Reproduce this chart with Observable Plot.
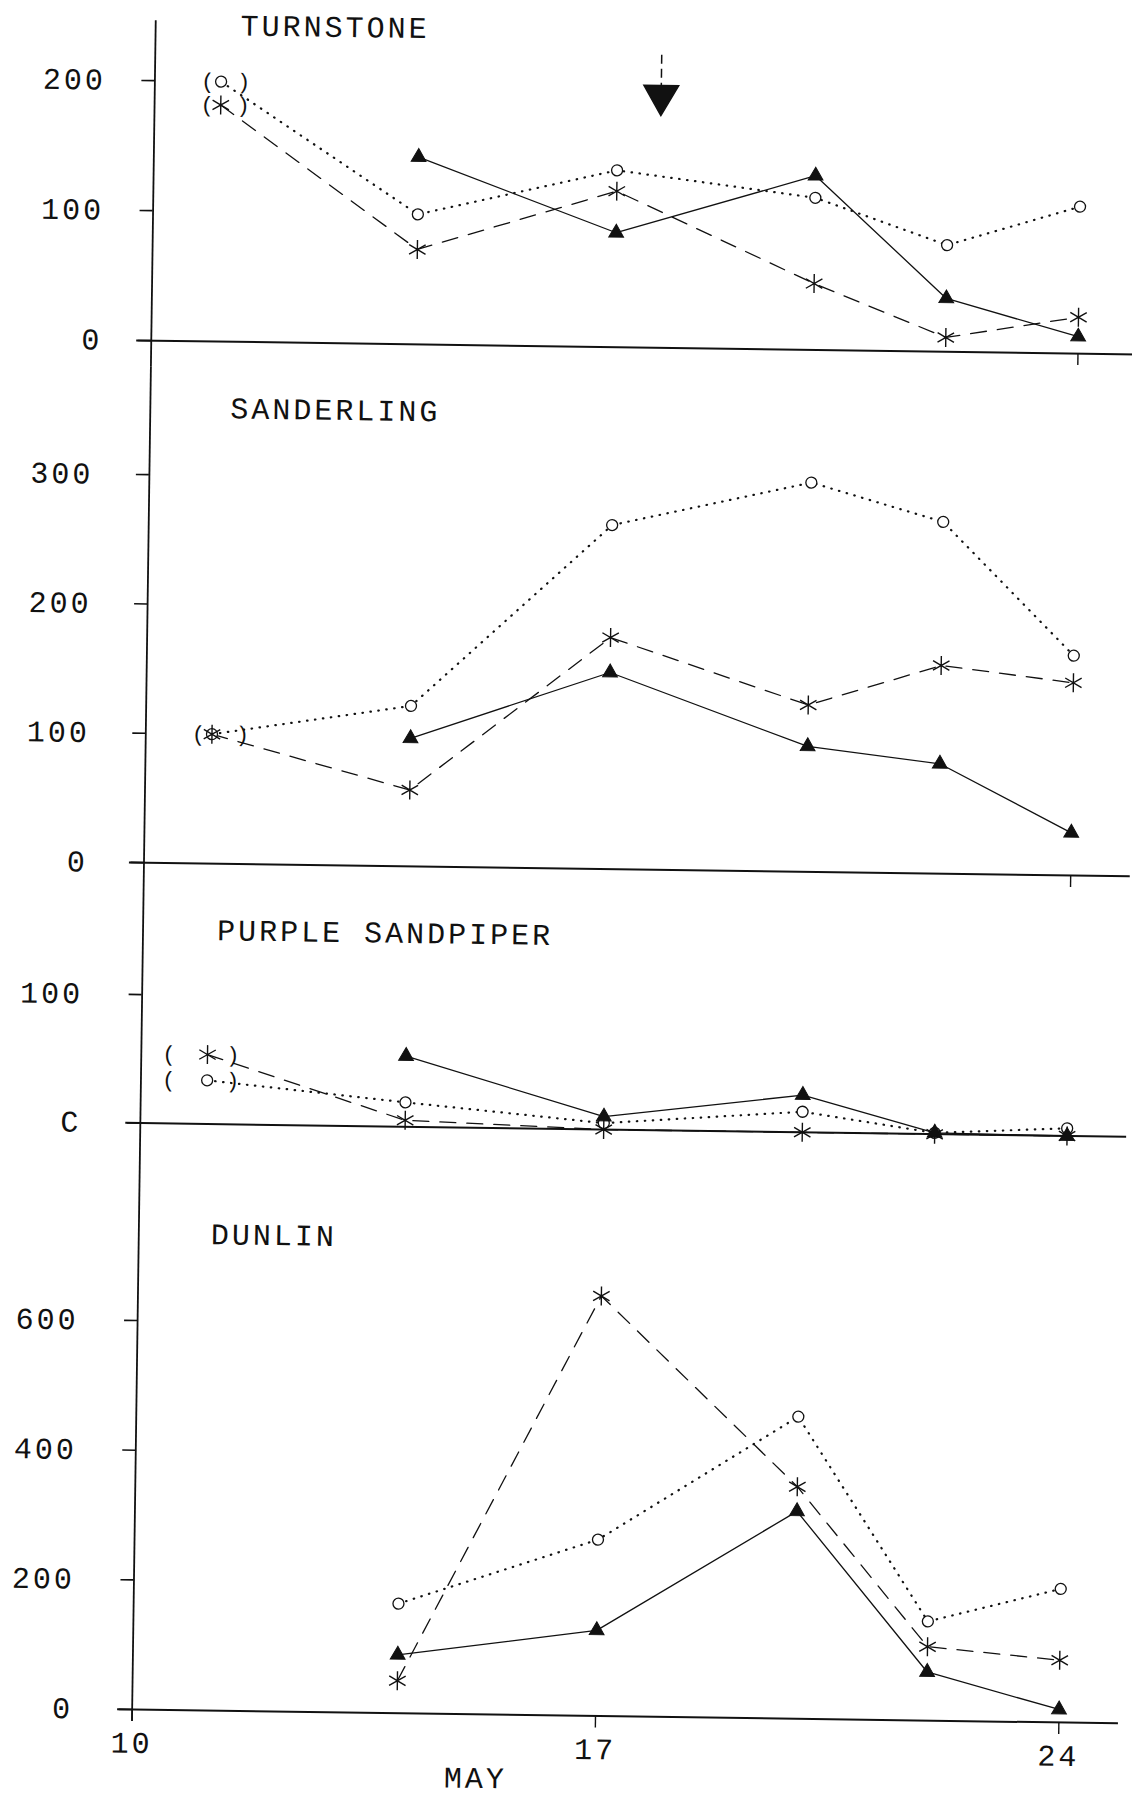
<!DOCTYPE html>
<html>
<head>
<meta charset="utf-8">
<script src="https://cdn.jsdelivr.net/npm/d3@7"></script>
<script src="https://cdn.jsdelivr.net/npm/@observablehq/plot@0.6"></script>
<style>
  html, body { margin: 0; padding: 0; background: #fff; overflow: hidden; }
  #chart { position: absolute; left: 0; top: 0; width: 1132px; height: 1799px;
           transform: rotate(0.8deg); transform-origin: 566px 900px; }
  #chart svg { display: block; overflow: visible; }
  #chart svg text { letter-spacing: 3px; }
</style>
</head>
<body>
<div id="chart"></div>
<script>
// ---------- data ----------
const days = [11, 14, 17, 20, 22, 24];          // May
const bracketDay = 11;                          // points shown in parentheses
const xTicks = [10, 17, 24];
const monthLabel = [{day: 15.2, label: "MAY"}];

const turnstoneTriangle = [null, 144, 88, 134, 41, 13];
const turnstoneStar     = [182, 73, 120, 51, 11, 28];
const turnstoneCircle   = [200, 100, 136, 117, 82, 113];
const turnstoneTicks    = [0, 100, 200];
const turnstoneLabels   = ["0", "100", "200"];
const turnstoneArrow    = [{day: 17.65, top: 225, base: 201, center: 194}];

const sanderlingTriangle = [null, 99, 152, 97, 85, 33];
const sanderlingStar     = [100, 59, 179, 129, 161, 149];
const sanderlingCircle   = [100, 124, 266, 301, 272, 170];
const sanderlingTicks    = [0, 100, 200, 300];
const sanderlingLabels   = ["0", "100", "200", "300"];

const purpleTriangle = [null, 55, 10, 29, 1, 0];
const purpleStar     = [54, 5, 0, 0, 0, 0];
const purpleCircle   = [34, 19, 5, 16, 1, 6];
const purpleTicks    = [0, 100];
const purpleLabels   = ["C", "100"];

const dunlinTriangle = [null, 90, 132, 320, 75, 20];
const dunlinStar     = [null, 50, 648, 358, 114, 96];
const dunlinCircle   = [null, 169, 272, 466, 153, 206];
const dunlinTicks    = [0, 200, 400, 600];
const dunlinLabels   = ["0", "200", "400", "600"];

// ---------- drawing ----------
const INK = "#111";
const W = 1132;
const FONT = "'Liberation Mono', 'DejaVu Sans Mono', monospace";

const downTriangle = {
  draw(ctx, size) {
    const h = Math.sqrt(size / (3 * Math.sqrt(3)));
    ctx.moveTo(0, 2 * h);
    ctx.lineTo(-Math.sqrt(3) * h, -h);
    ctx.lineTo(Math.sqrt(3) * h, -h);
    ctx.closePath();
  }
};

function rows(vals, key) {
  return days.map((d, i) => ({day: d, value: vals[i], series: key})).filter(r => r.value != null);
}

function makePanel(cfg) {
  const yMax = cfg.ticks[cfg.ticks.length - 1];
  const v = px => (px - cfg.baseline) * yMax / (cfg.topPx - cfg.baseline); // pixel -> value (layout helper)
  const tri = rows(cfg.triangle, "triangle");
  const star = rows(cfg.star, "star");
  const circ = rows(cfg.circle, "circle");
  const seen = new Set();
  const brackets = [...star, ...circ].filter(r => r.day === bracketDay)
    .filter(r => { if (seen.has(r.value)) return false; seen.add(r.value); return true; });

  const marks = [
    Plot.ruleX([10], {y1: v(cfg.axisTop), y2: v(cfg.axisBottom), stroke: INK, strokeWidth: 1.8}),
    Plot.ruleY([0], {x1: 9.78, x2: 24.9, stroke: INK, strokeWidth: 2}),
    Plot.axisY({ticks: cfg.ticks, tickFormat: d => cfg.labels[cfg.ticks.indexOf(d)],
                tickSize: 13, tickPadding: cfg.tickPadding, label: null, strokeWidth: 1.6}),
    Plot.line(tri,  {x: "day", y: "value", stroke: INK, strokeWidth: 1.3}),
    Plot.line(star, {x: "day", y: "value", stroke: INK, strokeWidth: 1.3, strokeDasharray: "16,11"}),
    Plot.line(circ, {x: "day", y: "value", stroke: INK, strokeWidth: 2.2, strokeDasharray: "0.5,7.5", strokeLinecap: "round"}),
    Plot.dot(circ, {x: "day", y: "value", symbol: "circle", r: 5.5, stroke: INK, strokeWidth: 1.3, fill: "white"}),
    Plot.dot(star, {x: "day", y: "value", symbol: "asterisk", r: 9, stroke: INK, strokeWidth: 1.4}),
    Plot.dot(tri,  {x: "day", y: "value", symbol: "triangle", r: 5.5, fill: INK, stroke: INK, strokeWidth: 1}),
    Plot.text(brackets, {x: "day", y: "value", text: () => "(", dx: cfg.parenDx[0], fontSize: 22, fill: INK}),
    Plot.text(brackets, {x: "day", y: "value", text: () => ")", dx: cfg.parenDx[1], fontSize: 22, fill: INK}),
    Plot.text([cfg.title], {text: d => d, frameAnchor: "top-left", dx: cfg.titleDx, dy: cfg.titleDy,
                            textAnchor: "start", lineAnchor: "middle", fontSize: 30, fill: INK})
  ];
  if (cfg.extra) marks.push(...cfg.extra);

  const xOpts = {domain: [10, 25], range: [143, 1136]};
  if (cfg.xAxis) {
    marks.push(cfg.xAxis);
  } else {
    xOpts.axis = null;
  }

  return Plot.plot({
    width: W,
    height: cfg.height,
    marginLeft: 143,
    marginRight: 0,
    marginTop: 0,
    marginBottom: cfg.height - cfg.baseline,
    x: xOpts,
    y: {domain: [0, yMax], range: [cfg.baseline, cfg.topPx]},
    style: {fontFamily: FONT, fontSize: "30px", color: INK, background: "transparent", overflow: "visible"},
    marks
  });
}

const panels = [
  makePanel({
    title: "TURNSTONE", titleDx: 85, titleDy: 30,
    height: 372, baseline: 346, topPx: 86, axisTop: 26, axisBottom: 372,
    ticks: turnstoneTicks, labels: turnstoneLabels, tickPadding: 36,
    triangle: turnstoneTriangle, star: turnstoneStar, circle: turnstoneCircle,
    parenDx: [-12, 24],
    xAxis: Plot.axisX({ticks: [24], tickFormat: () => "", tickSize: 12, label: null, strokeWidth: 1.4}),
    extra: [
      Plot.ruleX(turnstoneArrow, {x: "day", y1: "top", y2: "base", stroke: INK, strokeWidth: 1.5, strokeDasharray: "9,5"}),
      Plot.dot(turnstoneArrow, {x: "day", y: "center", symbol: downTriangle, r: 12.9, fill: INK, stroke: INK})
    ]
  }),
  makePanel({
    title: "SANDERLING", titleDx: 80, titleDy: 41,
    height: 528, baseline: 496, topPx: 108, axisTop: 0, axisBottom: 528,
    ticks: sanderlingTicks, labels: sanderlingLabels, tickPadding: 43,
    triangle: sanderlingTriangle, star: sanderlingStar, circle: sanderlingCircle,
    parenDx: [-12, 32],
    xAxis: Plot.axisX({ticks: [24], tickFormat: () => "", tickSize: 12, label: null, strokeWidth: 1.4})
  }),
  makePanel({
    title: "PURPLE SANDPIPER", titleDx: 74, titleDy: 35,
    height: 262, baseline: 228.5, topPx: 100, axisTop: 0, axisBottom: 262,
    ticks: purpleTicks, labels: purpleLabels, tickPadding: 46,
    triangle: purpleTriangle, star: purpleStar, circle: purpleCircle,
    parenDx: [-37, 27]
  }),
  makePanel({
    title: "DUNLIN", titleDx: 72, titleDy: 77,
    height: 637, baseline: 553, topPx: 164, axisTop: 0, axisBottom: 565,
    ticks: dunlinTicks, labels: dunlinLabels, tickPadding: 46,
    triangle: dunlinTriangle, star: dunlinStar, circle: dunlinCircle,
    parenDx: [-12, 24],
    xAxis: Plot.axisX({ticks: xTicks, tickFormat: d => String(d), tickSize: 12, tickPadding: 10, label: null, strokeWidth: 1.4}),
    extra: [
      Plot.text(monthLabel, {x: "day", text: "label", frameAnchor: "bottom", dy: 64, lineAnchor: "middle", fontSize: 30, fill: INK})
    ]
  })
];

const chart = document.getElementById("chart");
for (const p of panels) chart.appendChild(p);
</script>
</body>
</html>
